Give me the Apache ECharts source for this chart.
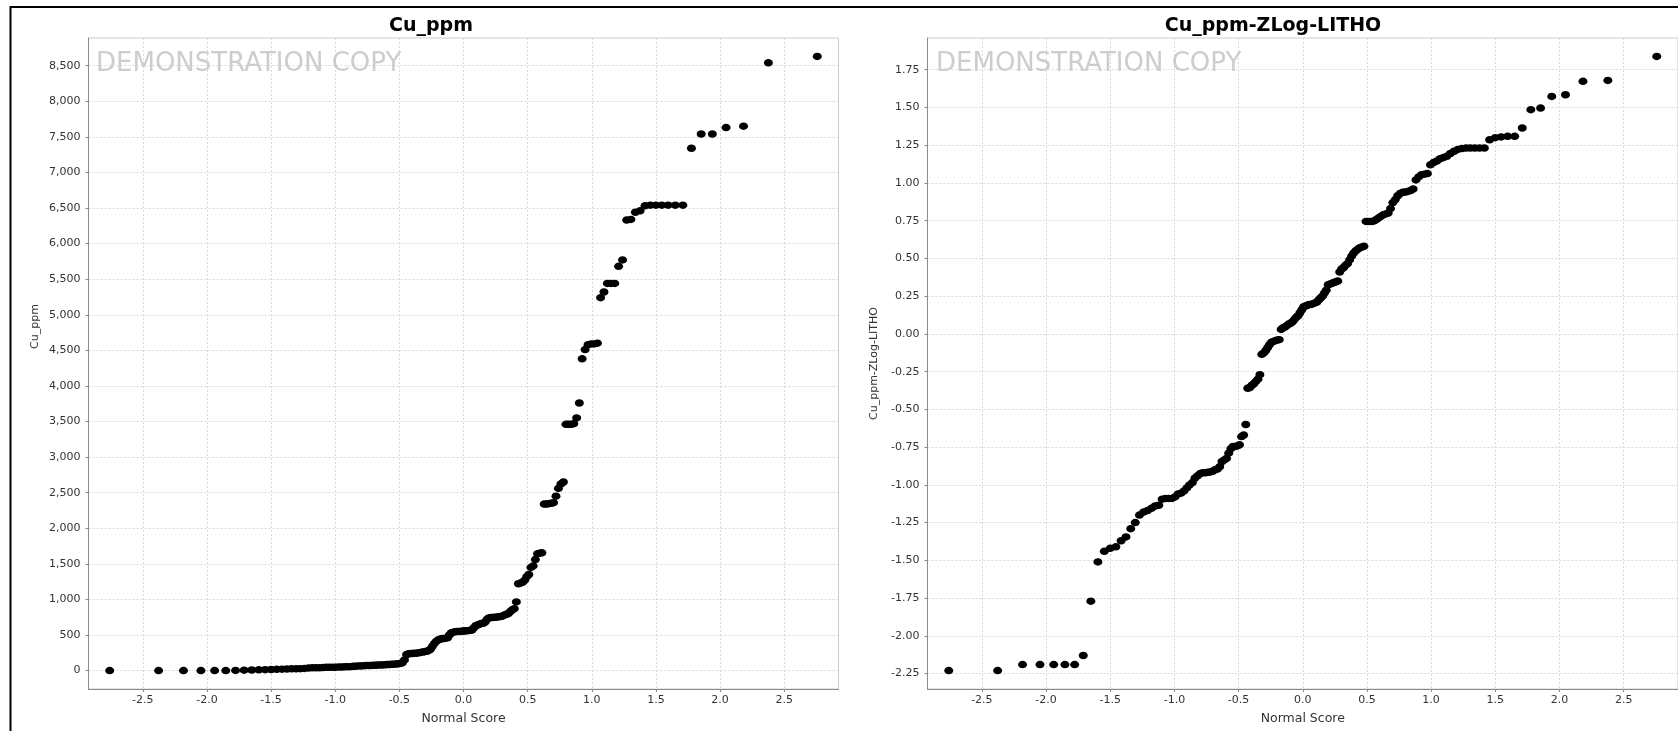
<!DOCTYPE html>
<html>
<head>
<meta charset="utf-8">
<script src="https://cdn.jsdelivr.net/npm/echarts@6/dist/echarts.min.js"></script>
<style>
html,body{margin:0;padding:0;background:#fff;}
#c{width:1678px;height:731px;}
</style>
</head>
<body>
<div id="c"></div>
<script>
// ---- data ----
const normalScore = [
-2.758,-2.377,-2.183,-2.047,-1.940,-1.853,-1.777,-1.710,-1.651,-1.596,
-1.546,-1.500,-1.456,-1.415,-1.377,-1.340,-1.305,-1.272,-1.240,-1.209,
-1.179,-1.150,-1.122,-1.095,-1.069,-1.044,-1.019,-0.995,-0.971,-0.948,
-0.925,-0.903,-0.882,-0.860,-0.840,-0.819,-0.799,-0.779,-0.759,-0.740,
-0.721,-0.702,-0.684,-0.665,-0.647,-0.629,-0.611,-0.594,-0.577,-0.560,
-0.543,-0.526,-0.509,-0.493,-0.477,-0.460,-0.444,-0.428,-0.412,-0.396,
-0.381,-0.365,-0.349,-0.334,-0.319,-0.303,-0.288,-0.273,-0.258,-0.243,
-0.228,-0.213,-0.198,-0.183,-0.168,-0.154,-0.139,-0.124,-0.110,-0.095,
-0.080,-0.066,-0.051,-0.036,-0.022,-0.007,
0.007,0.022,0.036,0.051,0.066,0.080,0.095,0.110,0.124,0.139,
0.154,0.168,0.183,0.198,0.213,0.228,0.243,0.258,0.273,0.288,
0.303,0.319,0.334,0.349,0.365,0.381,0.396,0.412,0.428,0.444,
0.460,0.477,0.493,0.509,0.526,0.543,0.560,0.577,0.594,0.611,
0.629,0.647,0.665,0.684,0.702,0.721,0.740,0.759,0.779,0.799,
0.819,0.840,0.860,0.882,0.903,0.925,0.948,0.971,0.995,1.019,
1.044,1.069,1.095,1.122,1.150,1.179,1.209,1.240,1.272,1.305,
1.340,1.377,1.415,1.456,1.500,1.546,1.596,1.651,1.710,1.777,
1.853,1.940,2.047,2.183,2.377,2.758
];

const cuPpm = [
0,0,0,0,0,0,2,5,8,10,
12,15,18,20,22,25,25,27,30,35,
38,40,40,42,45,45,45,48,50,50,
52,55,55,60,62,65,65,68,70,70,
72,75,75,78,80,80,82,85,85,88,
90,92,95,100,110,150,225,235,240,240,
245,245,250,255,260,265,270,280,300,340,
380,410,430,440,450,450,455,460,500,530,
540,545,550,550,550,555,555,560,560,565,
570,600,630,640,650,660,665,680,720,740,
745,745,750,750,755,760,765,780,790,800,
830,855,870,965,1220,1230,1240,1270,1320,1350,
1450,1470,1560,1640,1650,1655,2340,2340,2345,2350,
2360,2450,2560,2620,2650,3460,3460,3460,3470,3550,
3760,4380,4510,4580,4590,4590,4600,5240,5320,5440,
5440,5440,5680,5770,6330,6340,6440,6460,6530,6540,
6540,6540,6540,6540,6540,7340,7540,7540,7630,7650,
8540,8630
];

const cuZLogLitho = [
-2.23,-2.23,-2.19,-2.19,-2.19,-2.19,-2.19,-2.13,-1.77,-1.51,
-1.44,-1.42,-1.41,-1.37,-1.345,-1.29,-1.25,-1.20,-1.18,-1.17,
-1.155,-1.14,-1.135,-1.095,-1.09,-1.09,-1.09,-1.08,-1.06,-1.055,
-1.04,-1.02,-1.0,-0.985,-0.955,-0.94,-0.925,-0.92,-0.92,-0.917,
-0.915,-0.91,-0.90,-0.895,-0.88,-0.845,-0.835,-0.825,-0.79,-0.76,
-0.745,-0.745,-0.742,-0.735,-0.68,-0.67,-0.60,-0.36,-0.355,-0.34,
-0.33,-0.315,-0.30,-0.27,-0.135,-0.126,-0.11,-0.09,-0.07,-0.055,
-0.05,-0.045,-0.04,-0.038,0.03,0.04,0.045,0.055,0.065,0.07,
0.08,0.095,0.11,0.12,0.14,0.16,0.18,0.185,0.19,0.195,
0.195,0.20,0.205,0.21,0.225,0.238,0.25,0.27,0.29,0.325,
0.33,0.335,0.34,0.345,0.35,0.41,0.43,0.44,0.455,0.465,
0.49,0.515,0.535,0.55,0.56,0.57,0.575,0.58,0.745,0.745,
0.745,0.745,0.75,0.76,0.77,0.78,0.79,0.795,0.80,0.83,
0.87,0.89,0.915,0.93,0.938,0.94,0.944,0.95,0.96,1.02,
1.04,1.055,1.058,1.062,1.12,1.135,1.145,1.16,1.168,1.176,
1.195,1.21,1.222,1.228,1.231,1.231,1.231,1.231,1.231,1.286,
1.30,1.305,1.309,1.309,1.364,1.485,1.496,1.573,1.584,1.673,
1.679,1.838
];

const xTickValues = [-2.5,-2.0,-1.5,-1.0,-0.5,0.0,0.5,1.0,1.5,2.0,2.5];
const cuTickValues = [0,500,1000,1500,2000,2500,3000,3500,4000,4500,5000,5500,6000,6500,7000,7500,8000,8500];
const zlogTickValues = [-2.25,-2.00,-1.75,-1.50,-1.25,-1.00,-0.75,-0.50,-0.25,0.00,0.25,0.50,0.75,1.00,1.25,1.50,1.75];
const chartTitles = ['Cu_ppm', 'Cu_ppm-ZLog-LITHO'];
const yAxisTitles = ['Cu_ppm', 'Cu_ppm-ZLog-LITHO'];
const xAxisTitle = 'Normal Score';
const watermarkText = 'DEMONSTRATION COPY';

// ---- chart ----
const FONT = 'DejaVu Sans';
function padRange(arr, frac) {
  const lo = Math.min.apply(null, arr), hi = Math.max.apply(null, arr);
  const p = (hi - lo) * frac;
  return [lo - p, hi + p];
}
const xr = padRange(normalScore, 0.03);
const y0r = padRange(cuPpm, 0.03);
const y1r = padRange(cuZLogLitho, 0.03);

const gridStyle = {show: true, borderColor: '#cccccc', borderWidth: 1, backgroundColor: '#ffffff'};
const grids = [
  Object.assign({left: 88.5, top: 38, width: 750, height: 651}, gridStyle),
  Object.assign({left: 927.5, top: 38, width: 752, height: 651}, gridStyle)
];

const axisLineStyle = {show: true, onZero: false, lineStyle: {color: '#8a8a8a', width: 1}};
const splitLineStyle = {show: true, lineStyle: {color: '#d9d9d9', width: 1, type: [2, 2]}};
const labelStyle = {fontFamily: FONT, fontSize: 11, color: '#333333'};

function makeX(gi) {
  return {
    type: 'value', gridIndex: gi, min: xr[0], max: xr[1],
    name: xAxisTitle, nameLocation: 'middle', nameGap: 23,
    nameTextStyle: {fontFamily: FONT, fontSize: 12.5, color: '#333333'},
    axisLine: axisLineStyle,
    axisTick: {show: true, length: 3, inside: false, customValues: xTickValues, lineStyle: {color: '#8a8a8a'}},
    axisLabel: Object.assign({customValues: xTickValues, margin: 6, formatter: v => Number(v).toFixed(1)}, labelStyle),
    splitLine: splitLineStyle
  };
}
function makeY(gi, range, ticks, name, fmt, namePad) {
  return {
    type: 'value', gridIndex: gi, min: range[0], max: range[1],
    name: name, nameLocation: 'middle', nameRotate: 90, nameGap: 48,
    nameTextStyle: {fontFamily: FONT, fontSize: 11, color: '#333333', padding: namePad},
    axisLine: axisLineStyle,
    axisTick: {show: true, length: 3, inside: false, customValues: ticks, lineStyle: {color: '#8a8a8a'}},
    axisLabel: Object.assign({customValues: ticks, margin: 8, formatter: fmt}, labelStyle),
    splitLine: splitLineStyle
  };
}

const option = {
  animation: false,
  backgroundColor: '#ffffff',
  title: [
    {text: chartTitles[0], left: 426, top: 12, textAlign: 'center',
     textStyle: {fontFamily: FONT, fontWeight: 'bold', fontSize: 19, color: '#000'}},
    {text: chartTitles[1], left: 1268, top: 12, textAlign: 'center',
     textStyle: {fontFamily: FONT, fontWeight: 'bold', fontSize: 19, color: '#000'}}
  ],
  grid: grids,
  xAxis: [makeX(0), makeX(1)],
  yAxis: [
    makeY(0, y0r, cuTickValues, yAxisTitles[0], v => Number(v).toLocaleString('en-US'), [0, 0, 0, 74]),
    makeY(1, y1r, zlogTickValues, yAxisTitles[1], v => Number(v).toFixed(2), 0)
  ],
  graphic: [
    {type: 'text', x: 96, y: 64, z: 1, silent: true,
     style: {text: watermarkText, font: '26px "DejaVu Sans"', fill: '#cdcdcd', verticalAlign: 'middle'}},
    {type: 'text', x: 936, y: 64, z: 1, silent: true,
     style: {text: watermarkText, font: '26px "DejaVu Sans"', fill: '#cdcdcd', verticalAlign: 'middle'}},
    {type: 'rect', z: 100, silent: true, shape: {x: 10.5, y: 7, width: 1720, height: 780},
     style: {fill: 'none', stroke: '#000000', lineWidth: 2}}
  ],
  series: [
    {type: 'scatter', xAxisIndex: 0, yAxisIndex: 0, symbol: 'circle', symbolSize: [9, 7.5],
     itemStyle: {color: '#000000', opacity: 1}, data: normalScore.map((z, i) => [z, cuPpm[i]])},
    {type: 'scatter', xAxisIndex: 1, yAxisIndex: 1, symbol: 'circle', symbolSize: [9, 7.5],
     itemStyle: {color: '#000000', opacity: 1}, data: normalScore.map((z, i) => [z, cuZLogLitho[i]])}
  ]
};

const chart = echarts.init(document.getElementById('c'), null, {renderer: 'canvas'});
chart.setOption(option);
</script>
</body>
</html>
